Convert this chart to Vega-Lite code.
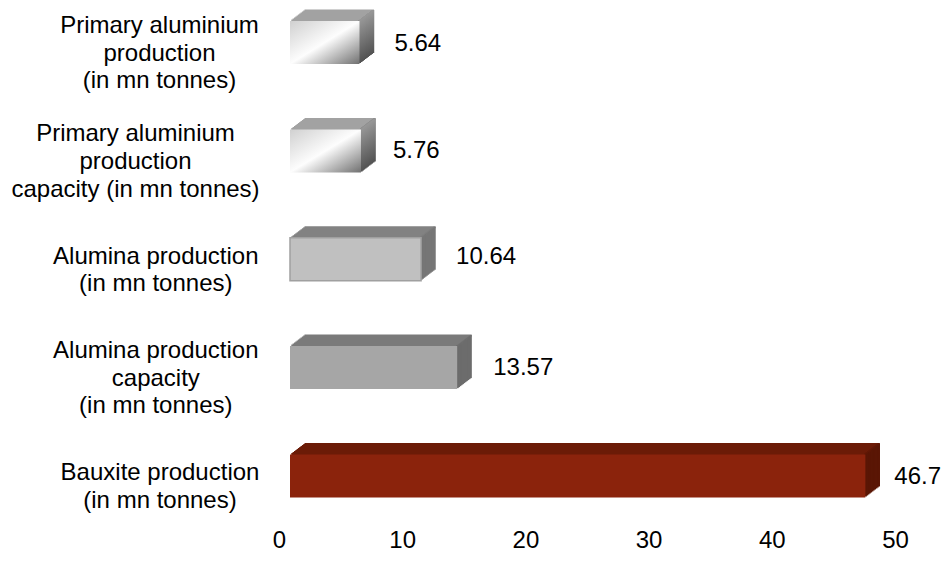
{"$schema":"https://vega.github.io/schema/vega-lite/v6.json","width":616,"height":518.5,"autosize":{"type":"none"},"padding":{"left":290,"top":0,"right":37,"bottom":59.5},"background":"white","config":{"view":{"stroke":null},"tick":{"opacity":1},"bar":{"opacity":1}},
"datasets":{"d":[
{"label":"Primary aluminium|production|(in mn tonnes)","value":5.64,"group":"aluminium"},
{"label":"Primary aluminium|production|capacity (in mn tonnes)","value":5.76,"group":"aluminium"},
{"label":"Alumina production|(in mn tonnes)","value":10.64,"group":"alumina"},
{"label":"Alumina production|capacity|(in mn tonnes)","value":13.57,"group":"capacity"},
{"label":"Bauxite production|(in mn tonnes)","value":46.7,"group":"bauxite"}]},
"data":{"name":"d"},
"encoding":{"x":{"field":"value","type":"quantitative","scale":{"domain":[0,50],"nice":false},"axis":{"title":null,"values":[0,10,20,30,40,50],"grid":false,"domain":false,"ticks":false,"labelFont":"Liberation Sans","labelFontSize":24,"labelColor":"#000000","labelOffset":-11,"labelPadding":10,"labelFlush":false,"labelBound":false,"labelOverlap":false}},
"y":{"field":"label","type":"nominal","sort":null,"scale":{"paddingInner":0.603,"paddingOuter":0.194},"axis":{"title":null,"grid":false,"domain":false,"ticks":false,"labelFont":"Liberation Sans","labelFontSize":24,"labelColor":"#000000","labelAlign":"center","labelBaseline":"middle","labelLineHeight":27.6,"labelLimit":0,"labelBound":false,"labelOverlap":false,"labelOffset":{"condition":{"test":"length(split(datum.value,'|'))==3","value":-16.5},"value":-2.5},"labelExpr":"split(datum.label,'|')","labelPadding":{"condition":[{"test":"indexof(datum.value,'capacity (in')>=0","value":155},{"test":"indexof(datum.value,'Alumina')>=0","value":134.7},{"test":"indexof(datum.value,'Primary')>=0","value":131}],"value":130.5}}}},
"layer":[
{"mark":{"type":"bar","height":2,"xOffset":14.5,"yOffset":-32},"encoding":{"color":{"field":"group","type":"nominal","legend":null,"scale":{"domain":["aluminium","alumina","capacity","bauxite"],"range":["#a2a2a2","#828282","#7a7a7a","#6b1b07"]}}}},
{"mark":{"type":"tick","size":43,"thickness":2.5,"xOffset":13.4,"yOffset":-11},"encoding":{"color":{"field":"group","type":"nominal","legend":null,"scale":{"domain":["aluminium","alumina","capacity","bauxite"],"range":["#707070","#767676","#6c6c6c","#5a1605"]}}}},
{"mark":{"type":"bar","height":2,"xOffset":13.2,"yOffset":-31},"encoding":{"color":{"field":"group","type":"nominal","legend":null,"scale":{"domain":["aluminium","alumina","capacity","bauxite"],"range":["#a2a2a2","#828282","#7a7a7a","#6b1b07"]}}}},
{"mark":{"type":"tick","size":43,"thickness":2.5,"xOffset":12.1,"yOffset":-10},"encoding":{"color":{"field":"group","type":"nominal","legend":null,"scale":{"domain":["aluminium","alumina","capacity","bauxite"],"range":["#707070","#767676","#6c6c6c","#5a1605"]}}}},
{"mark":{"type":"bar","height":2,"xOffset":11.9,"yOffset":-30},"encoding":{"color":{"field":"group","type":"nominal","legend":null,"scale":{"domain":["aluminium","alumina","capacity","bauxite"],"range":["#a2a2a2","#828282","#7a7a7a","#6b1b07"]}}}},
{"mark":{"type":"tick","size":43,"thickness":2.5,"xOffset":10.8,"yOffset":-9},"encoding":{"color":{"field":"group","type":"nominal","legend":null,"scale":{"domain":["aluminium","alumina","capacity","bauxite"],"range":["#707070","#767676","#6c6c6c","#5a1605"]}}}},
{"mark":{"type":"bar","height":2,"xOffset":10.5,"yOffset":-29},"encoding":{"color":{"field":"group","type":"nominal","legend":null,"scale":{"domain":["aluminium","alumina","capacity","bauxite"],"range":["#a2a2a2","#828282","#7a7a7a","#6b1b07"]}}}},
{"mark":{"type":"tick","size":43,"thickness":2.5,"xOffset":9.4,"yOffset":-8},"encoding":{"color":{"field":"group","type":"nominal","legend":null,"scale":{"domain":["aluminium","alumina","capacity","bauxite"],"range":["#707070","#767676","#6c6c6c","#5a1605"]}}}},
{"mark":{"type":"bar","height":2,"xOffset":9.2,"yOffset":-28},"encoding":{"color":{"field":"group","type":"nominal","legend":null,"scale":{"domain":["aluminium","alumina","capacity","bauxite"],"range":["#a2a2a2","#828282","#7a7a7a","#6b1b07"]}}}},
{"mark":{"type":"tick","size":43,"thickness":2.5,"xOffset":8.1,"yOffset":-7},"encoding":{"color":{"field":"group","type":"nominal","legend":null,"scale":{"domain":["aluminium","alumina","capacity","bauxite"],"range":["#707070","#767676","#6c6c6c","#5a1605"]}}}},
{"mark":{"type":"bar","height":2,"xOffset":7.9,"yOffset":-27},"encoding":{"color":{"field":"group","type":"nominal","legend":null,"scale":{"domain":["aluminium","alumina","capacity","bauxite"],"range":["#a2a2a2","#828282","#7a7a7a","#6b1b07"]}}}},
{"mark":{"type":"tick","size":43,"thickness":2.5,"xOffset":6.8,"yOffset":-6},"encoding":{"color":{"field":"group","type":"nominal","legend":null,"scale":{"domain":["aluminium","alumina","capacity","bauxite"],"range":["#707070","#767676","#6c6c6c","#5a1605"]}}}},
{"mark":{"type":"bar","height":2,"xOffset":6.6,"yOffset":-26},"encoding":{"color":{"field":"group","type":"nominal","legend":null,"scale":{"domain":["aluminium","alumina","capacity","bauxite"],"range":["#a2a2a2","#828282","#7a7a7a","#6b1b07"]}}}},
{"mark":{"type":"tick","size":43,"thickness":2.5,"xOffset":5.5,"yOffset":-5},"encoding":{"color":{"field":"group","type":"nominal","legend":null,"scale":{"domain":["aluminium","alumina","capacity","bauxite"],"range":["#707070","#767676","#6c6c6c","#5a1605"]}}}},
{"mark":{"type":"bar","height":2,"xOffset":5.3,"yOffset":-25},"encoding":{"color":{"field":"group","type":"nominal","legend":null,"scale":{"domain":["aluminium","alumina","capacity","bauxite"],"range":["#a2a2a2","#828282","#7a7a7a","#6b1b07"]}}}},
{"mark":{"type":"tick","size":43,"thickness":2.5,"xOffset":4.2,"yOffset":-4},"encoding":{"color":{"field":"group","type":"nominal","legend":null,"scale":{"domain":["aluminium","alumina","capacity","bauxite"],"range":["#707070","#767676","#6c6c6c","#5a1605"]}}}},
{"mark":{"type":"bar","height":2,"xOffset":4,"yOffset":-24},"encoding":{"color":{"field":"group","type":"nominal","legend":null,"scale":{"domain":["aluminium","alumina","capacity","bauxite"],"range":["#a2a2a2","#828282","#7a7a7a","#6b1b07"]}}}},
{"mark":{"type":"tick","size":43,"thickness":2.5,"xOffset":2.9,"yOffset":-3},"encoding":{"color":{"field":"group","type":"nominal","legend":null,"scale":{"domain":["aluminium","alumina","capacity","bauxite"],"range":["#707070","#767676","#6c6c6c","#5a1605"]}}}},
{"mark":{"type":"bar","height":2,"xOffset":2.6,"yOffset":-23},"encoding":{"color":{"field":"group","type":"nominal","legend":null,"scale":{"domain":["aluminium","alumina","capacity","bauxite"],"range":["#a2a2a2","#828282","#7a7a7a","#6b1b07"]}}}},
{"mark":{"type":"tick","size":43,"thickness":2.5,"xOffset":1.6,"yOffset":-2},"encoding":{"color":{"field":"group","type":"nominal","legend":null,"scale":{"domain":["aluminium","alumina","capacity","bauxite"],"range":["#707070","#767676","#6c6c6c","#5a1605"]}}}},
{"mark":{"type":"bar","height":2,"xOffset":1.3,"yOffset":-22},"encoding":{"color":{"field":"group","type":"nominal","legend":null,"scale":{"domain":["aluminium","alumina","capacity","bauxite"],"range":["#a2a2a2","#828282","#7a7a7a","#6b1b07"]}}}},
{"mark":{"type":"tick","size":43,"thickness":2.5,"xOffset":0.3,"yOffset":-1},"encoding":{"color":{"field":"group","type":"nominal","legend":null,"scale":{"domain":["aluminium","alumina","capacity","bauxite"],"range":["#707070","#767676","#6c6c6c","#5a1605"]}}}},
{"transform":[{"filter":"datum.group==='aluminium'"}],"layer":[
{"mark":{"type":"tick","size":43,"thickness":2.5,"xOffset":13.4,"yOffset":-11,"color":{"gradient":"linear","x1":0,"y1":0,"x2":0,"y2":1,"stops":[{"offset":0,"color":"#979797"},{"offset":1,"color":"#525252"}]}}},
{"mark":{"type":"tick","size":43,"thickness":2.5,"xOffset":12.1,"yOffset":-10,"color":{"gradient":"linear","x1":0,"y1":0,"x2":0,"y2":1,"stops":[{"offset":0,"color":"#979797"},{"offset":1,"color":"#525252"}]}}},
{"mark":{"type":"tick","size":43,"thickness":2.5,"xOffset":10.8,"yOffset":-9,"color":{"gradient":"linear","x1":0,"y1":0,"x2":0,"y2":1,"stops":[{"offset":0,"color":"#979797"},{"offset":1,"color":"#525252"}]}}},
{"mark":{"type":"tick","size":43,"thickness":2.5,"xOffset":9.4,"yOffset":-8,"color":{"gradient":"linear","x1":0,"y1":0,"x2":0,"y2":1,"stops":[{"offset":0,"color":"#979797"},{"offset":1,"color":"#525252"}]}}},
{"mark":{"type":"tick","size":43,"thickness":2.5,"xOffset":8.1,"yOffset":-7,"color":{"gradient":"linear","x1":0,"y1":0,"x2":0,"y2":1,"stops":[{"offset":0,"color":"#979797"},{"offset":1,"color":"#525252"}]}}},
{"mark":{"type":"tick","size":43,"thickness":2.5,"xOffset":6.8,"yOffset":-6,"color":{"gradient":"linear","x1":0,"y1":0,"x2":0,"y2":1,"stops":[{"offset":0,"color":"#979797"},{"offset":1,"color":"#525252"}]}}},
{"mark":{"type":"tick","size":43,"thickness":2.5,"xOffset":5.5,"yOffset":-5,"color":{"gradient":"linear","x1":0,"y1":0,"x2":0,"y2":1,"stops":[{"offset":0,"color":"#979797"},{"offset":1,"color":"#525252"}]}}},
{"mark":{"type":"tick","size":43,"thickness":2.5,"xOffset":4.2,"yOffset":-4,"color":{"gradient":"linear","x1":0,"y1":0,"x2":0,"y2":1,"stops":[{"offset":0,"color":"#979797"},{"offset":1,"color":"#525252"}]}}},
{"mark":{"type":"tick","size":43,"thickness":2.5,"xOffset":2.9,"yOffset":-3,"color":{"gradient":"linear","x1":0,"y1":0,"x2":0,"y2":1,"stops":[{"offset":0,"color":"#979797"},{"offset":1,"color":"#525252"}]}}},
{"mark":{"type":"tick","size":43,"thickness":2.5,"xOffset":1.6,"yOffset":-2,"color":{"gradient":"linear","x1":0,"y1":0,"x2":0,"y2":1,"stops":[{"offset":0,"color":"#979797"},{"offset":1,"color":"#525252"}]}}},
{"mark":{"type":"tick","size":43,"thickness":2.5,"xOffset":0.3,"yOffset":-1,"color":{"gradient":"linear","x1":0,"y1":0,"x2":0,"y2":1,"stops":[{"offset":0,"color":"#979797"},{"offset":1,"color":"#525252"}]}}},
{"mark":{"type":"bar","color":{"gradient":"linear","x1":0,"y1":0,"x2":1,"y2":1,"stops":[{"offset":0,"color":"#d0d0d0"},{"offset":0.5,"color":"#fdfdfd"},{"offset":1,"color":"#707070"}]}}}]},
{"transform":[{"filter":"datum.group==='alumina'"}],"mark":{"type":"bar","fill":"#c0c0c0","stroke":"#a0a0a0","strokeWidth":1.5}},
{"transform":[{"filter":"datum.group==='capacity'"}],"mark":{"type":"bar","color":"#a6a6a6"}},
{"transform":[{"filter":"datum.group==='bauxite'"}],"mark":{"type":"bar","color":"#8b230c"}},
{"transform":[{"filter":"datum.value===5.64"}],"mark":{"type":"text","align":"left","baseline":"middle","dx":35,"dy":1,"font":"Liberation Sans","fontSize":24,"color":"#000000"},"encoding":{"text":{"field":"value","type":"quantitative"}}},
{"transform":[{"filter":"datum.value===5.76"}],"mark":{"type":"text","align":"left","baseline":"middle","dx":32,"dy":0,"font":"Liberation Sans","fontSize":24,"color":"#000000"},"encoding":{"text":{"field":"value","type":"quantitative"}}},
{"transform":[{"filter":"datum.value===10.64"}],"mark":{"type":"text","align":"left","baseline":"middle","dx":35,"dy":-2,"font":"Liberation Sans","fontSize":24,"color":"#000000"},"encoding":{"text":{"field":"value","type":"quantitative"}}},
{"transform":[{"filter":"datum.value===13.57"}],"mark":{"type":"text","align":"left","baseline":"middle","dx":36,"dy":0,"font":"Liberation Sans","fontSize":24,"color":"#000000"},"encoding":{"text":{"field":"value","type":"quantitative"}}},
{"transform":[{"filter":"datum.value===46.7"}],"mark":{"type":"text","align":"left","baseline":"middle","dx":29,"dy":1,"font":"Liberation Sans","fontSize":24,"color":"#000000"},"encoding":{"text":{"field":"value","type":"quantitative"}}}
],
"resolve":{"scale":{"color":"independent"}}}
